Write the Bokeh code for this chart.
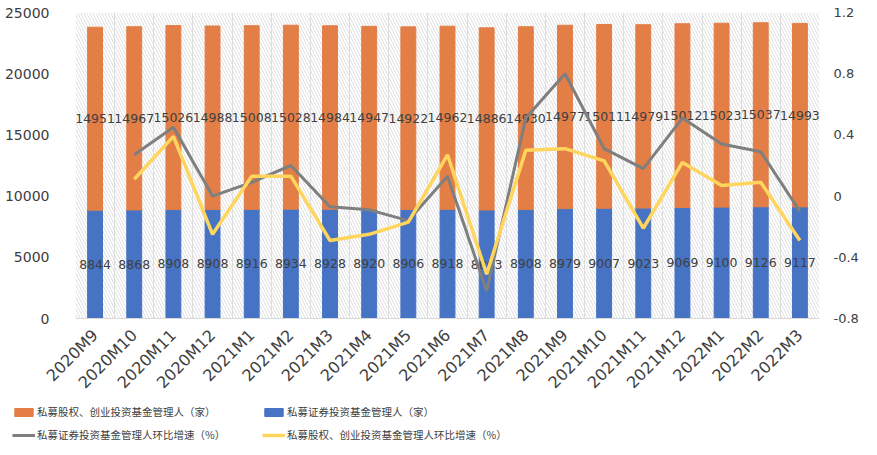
import math
from bokeh.plotting import figure
from bokeh.layouts import column, row
from bokeh.models import (ColumnDataSource, Range1d, LinearAxis, FixedTicker, Legend,
                          LegendItem, BoxAnnotation, Grid)
from bokeh.core.properties import value
from bokeh.embed import file_html
from bokeh.resources import INLINE

months = ["2020M9", "2020M10", "2020M11", "2020M12", "2021M1", "2021M2", "2021M3",
          "2021M4", "2021M5", "2021M6", "2021M7", "2021M8", "2021M9", "2021M10",
          "2021M11", "2021M12", "2022M1", "2022M2", "2022M3"]
equity_mgrs = [14951, 14967, 15026, 14988, 15008, 15028, 14984, 14947, 14922, 14962,
               14886, 14930, 14977, 15011, 14979, 15012, 15023, 15037, 14993]
securities_mgrs = [8844, 8868, 8908, 8908, 8916, 8934, 8928, 8920, 8906, 8918,
                   8863, 8908, 8979, 9007, 9023, 9069, 9100, 9126, 9117]
# month-on-month growth (%), from 2020M10
securities_growth = [0.27, 0.45, 0.00, 0.09, 0.20, -0.07, -0.09, -0.16, 0.13,
                     -0.62, 0.51, 0.80, 0.31, 0.18, 0.51, 0.34, 0.29, -0.10]
equity_growth = [0.11, 0.39, -0.25, 0.13, 0.13, -0.29, -0.25, -0.17, 0.27,
                 -0.51, 0.30, 0.31, 0.23, -0.21, 0.22, 0.07, 0.09, -0.29]
left_ticks = [0, 5000, 10000, 15000, 20000, 25000]
right_ticks = [-0.8, -0.4, 0, 0.4, 0.8, 1.2]
right_labels = ["-0.8", "-0.4", "0", "0.4", "0.8", "1.2"]
legend_labels = ["私募股权、创业投资基金管理人（家）", "私募证券投资基金管理人（家）",
                 "私募证券投资基金管理人环比增速（%）", "私募股权、创业投资基金管理人环比增速（%）"]

ORANGE = "#E27E46"
BLUE = "#4673C3"
GRAY = "#7F7F7F"
YELLOW = "#FFD55E"
TXT = "#404040"
NUMFONT = "DejaVu Sans"
CJK = "Noto Sans CJK SC"

n = len(months)
xs = list(range(n))
src = ColumnDataSource(dict(
    x=xs,
    sec=securities_mgrs,
    eq=equity_mgrs,
    total=[a + b for a, b in zip(securities_mgrs, equity_mgrs)],
    sec_mid=[a / 2 for a in securities_mgrs],
    eq_mid=[a + b / 2 for a, b in zip(securities_mgrs, equity_mgrs)],
    sec_lbl=[str(v) for v in securities_mgrs],
    eq_lbl=[str(v) for v in equity_mgrs],
))
gsrc = ColumnDataSource(dict(x=xs[1:], sg=securities_growth, eg=equity_growth))

p = figure(frame_width=744, frame_height=306, output_backend="svg", toolbar_location=None,
           x_range=Range1d(-0.5, n - 0.5), y_range=Range1d(0, 25000),
           min_border_left=75, min_border_right=42, min_border_top=12, min_border_bottom=77)
p.outline_line_color = None
p.background_fill_color = "white"
p.border_fill_color = "white"
p.extra_y_ranges = {"pct": Range1d(-0.8, 1.2)}

# hatched plot background
p.add_layout(BoxAnnotation(fill_color="white", fill_alpha=1, hatch_pattern="\\",
                           hatch_color="#d2d2d2", hatch_scale=6, hatch_weight=0.7,
                           line_color=None, level="underlay"))

# grids
p.xgrid.visible = False
p.ygrid.ticker = FixedTicker(ticks=left_ticks)
p.ygrid.grid_line_color = "#d9d9d9"
p.ygrid.grid_line_width = 1
p.ygrid.level = "underlay"
vgrid = Grid(dimension=0, ticker=FixedTicker(ticks=[i - 0.5 for i in range(n + 1)]),
             grid_line_color="#dedede", grid_line_width=1, level="underlay")
p.add_layout(vgrid)

# bars
b_sec = p.vbar(x="x", bottom=0, top="sec", width=0.38, color=BLUE, source=src)
b_eq = p.vbar(x="x", bottom="sec", top="total", width=0.38, color=ORANGE, source=src)

# data labels
for ycol, tcol in (("sec_mid", "sec_lbl"), ("eq_mid", "eq_lbl")):
    p.text(x="x", y=ycol, text=tcol, source=src, text_align="center",
           text_baseline="middle", text_font=value(NUMFONT), text_font_size="12.5px",
           text_color=TXT)

# lines
l_sec = p.line(x="x", y="sg", source=gsrc, y_range_name="pct", line_color=GRAY,
               line_width=3)
l_eq = p.line(x="x", y="eg", source=gsrc, y_range_name="pct", line_color=YELLOW,
              line_width=3.5)

# axes
p.xaxis.ticker = FixedTicker(ticks=xs)
p.xaxis.major_label_overrides = {i: m for i, m in enumerate(months)}
p.xaxis.major_label_orientation = math.pi / 4
p.xaxis.axis_line_color = "#d9d9d9"
p.xaxis.major_tick_line_color = None
p.xaxis.minor_tick_line_color = None
p.xaxis.major_label_text_font = NUMFONT
p.xaxis.major_label_text_font_size = "16px"
p.xaxis.major_label_text_color = TXT
p.xaxis.major_label_standoff = 8

p.yaxis.ticker = FixedTicker(ticks=left_ticks)
p.yaxis.axis_line_color = None
p.yaxis.major_tick_line_color = None
p.yaxis.minor_tick_line_color = None
p.yaxis.major_label_text_font = NUMFONT
p.yaxis.major_label_text_font_size = "14px"
p.yaxis.major_label_text_color = TXT
p.yaxis.major_label_standoff = 20

ax2 = LinearAxis(y_range_name="pct", ticker=FixedTicker(ticks=right_ticks))
ax2.major_label_overrides = {t: l for t, l in zip(right_ticks, right_labels)}
ax2.axis_line_color = None
ax2.major_tick_line_color = None
ax2.minor_tick_line_color = None
ax2.major_label_text_font = NUMFONT
ax2.major_label_text_font_size = "13px"
ax2.major_label_text_color = TXT
ax2.major_label_standoff = 8
p.add_layout(ax2, "right")

# legend in a separate strip below the chart
lf = figure(width=861, height=44, output_backend="svg", toolbar_location=None,
            x_range=Range1d(0, 1), y_range=Range1d(0, 1),
            x_axis_location=None, y_axis_location=None,
            min_border=0, min_border_left=0, min_border_right=0,
            min_border_top=0, min_border_bottom=0)
lf.grid.visible = False
lf.outline_line_color = None
lf.border_fill_color = "white"
lf.background_fill_color = "white"
d_eq = lf.vbar(x=[5], bottom=[5], top=[6], width=0.1, color=ORANGE)
d_sec = lf.vbar(x=[5], bottom=[5], top=[6], width=0.1, color=BLUE)
d_lsec = lf.line(x=[5, 6], y=[5, 5], line_color=GRAY, line_width=3)
d_leq = lf.line(x=[5, 6], y=[5, 5], line_color=YELLOW, line_width=3.5)

legend = Legend(items=[
    LegendItem(label=legend_labels[0], renderers=[d_eq]),
    LegendItem(label=legend_labels[1], renderers=[d_sec]),
    LegendItem(label=legend_labels[2], renderers=[d_lsec]),
    LegendItem(label=legend_labels[3], renderers=[d_leq]),
], location=(12, 3), orientation="horizontal", nrows=2)
legend.background_fill_alpha = 0
legend.border_line_color = None
legend.label_text_font = CJK
legend.label_text_font_size = "10.5px"
legend.label_text_color = TXT
legend.glyph_width = 23
legend.glyph_height = 10
legend.label_width = 217
legend.label_standoff = 2
legend.spacing = 8
legend.padding = 0
legend.margin = 0
legend.label_height = 12
lf.add_layout(legend, "center")

layout = column(p, row(lf), spacing=0)
open("out.html", "w").write(file_html(layout, INLINE))
